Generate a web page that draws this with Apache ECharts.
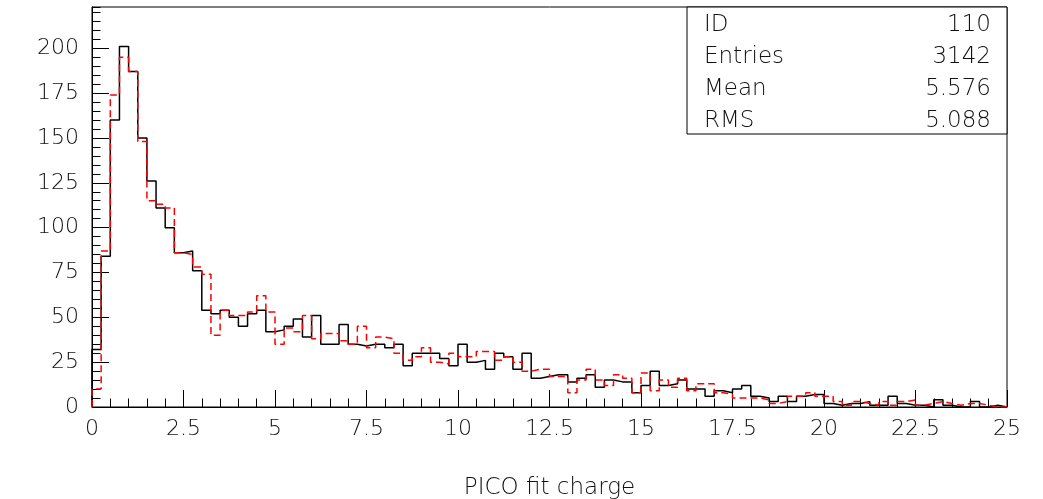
<!DOCTYPE html>
<html>
<head>
<meta charset="utf-8">
<script src="https://cdn.jsdelivr.net/npm/echarts@6/dist/echarts.min.js"></script>
<style>
html,body{margin:0;padding:0;background:#fff;}
#chart{width:1043px;height:499px;}
</style>
</head>
<body>
<div id="chart"></div>
<script>
// ---- data (histogram: 100 bins of width 0.25 from 0 to 25) ----
const binStart = 0;
const binWidth = 0.25;
const dataCounts = [
  32, 84, 160, 201, 187, 150, 126, 111, 100, 86,
  87, 76, 54, 52, 54, 50, 45, 52, 54, 42,
  43, 45, 49, 39, 51, 35, 35, 46, 35, 34,
  35, 35, 33, 35, 23, 30, 30, 30, 27, 23,
  35, 25, 26, 21, 30, 28, 21, 30, 16, 17,
  18, 18, 14, 16, 18, 11, 15, 14, 14, 8,
  12, 20, 12, 13, 15, 10, 10, 6, 9, 8,
  10, 12, 6, 5, 3, 6, 3, 6, 7, 7,
  2, 1, 2, 2, 3, 1, 1, 6, 2, 1,
  1, 0, 4, 1, 0, 0, 3, 0, 1, 0
];
const refCounts = [
  10, 87, 174, 195, 187, 148, 115, 113, 111, 86,
  85, 78, 74, 40, 54, 51, 51, 53, 62, 53,
  35, 44, 42, 51, 38, 41, 41, 37, 35, 45,
  33, 39, 38, 30, 26, 28, 33, 25, 24, 30,
  28, 28, 31, 31, 26, 28, 25, 20, 21, 21,
  17, 17, 8, 15, 21, 15, 12, 18, 16, 8,
  19, 9, 15, 11, 16, 9, 13, 13, 8, 7,
  5, 5, 5, 4, 2, 3, 6, 6, 8, 6,
  6, 3, 1, 3, 2, 1, 3, 1, 3, 4,
  1, 2, 3, 2, 1, 2, 2, 1, 0, 0
];
const xTickLabels = ['0','2.5','5','7.5','10','12.5','15','17.5','20','22.5','25'];
const yTickLabels = ['0','25','50','75','100','125','150','175','200'];
const statsLabels = ['ID', 'Entries', 'Mean', 'RMS'];
const statsValues = ['110', '3142', '5.576', '5.088'];
const xTitle = 'PICO fit charge';

// ---- build step outlines from the bins ----
function outline(counts) {
  const pts = [[binStart, 0]];
  counts.forEach((c, i) => pts.push([binStart + i * binWidth, c]));
  const xEnd = binStart + counts.length * binWidth;
  pts.push([xEnd, counts[counts.length - 1]]);
  pts.push([xEnd, 0]);
  return pts;
}

const FONT = 'DejaVu Sans';
const FW = 200;
const FS = 23;
const TFS = 22;
const TXT = '#111';
const G = {left: 92, right: 1007, top: 7, bottom: 407};

const statsGraphics = [{
  type: 'rect',
  shape: {x: 687, y: G.top, width: G.right - 687, height: 134 - G.top},
  style: {fill: '#fff', stroke: '#000', lineWidth: 1},
  z: 100
}];
const rowH = (134 - G.top) / statsLabels.length;
statsLabels.forEach((lab, i) => {
  const cy = G.top + rowH * (i + 0.5) + 2.5;
  statsGraphics.push({type: 'text', x: 704, y: cy, z: 101,
    style: {text: lab, font: FW + ' ' + FS + 'px "' + FONT + '"', fill: TXT, textVerticalAlign: 'middle', verticalAlign: 'middle'}});
  statsGraphics.push({type: 'text', x: 991, y: cy, z: 101,
    style: {text: statsValues[i], font: FW + ' ' + FS + 'px "' + FONT + '"', fill: TXT, textAlign: 'right', align: 'right', textVerticalAlign: 'middle', verticalAlign: 'middle'}});
});

const chart = echarts.init(document.getElementById('chart'), null, {renderer: 'canvas'});
const yMax = 223;
chart.setOption({
  animation: false,
  backgroundColor: '#fff',
  grid: {left: G.left, right: 1043 - G.right, top: G.top, bottom: 499 - G.bottom,
         show: true, borderColor: '#000', borderWidth: 1, backgroundColor: 'transparent',
         containLabel: false, outerBoundsMode: 'none'},
  xAxis: [{
    type: 'value', min: 0, max: 25, interval: 2.5, position: 'bottom',
    axisLine: {show: true, onZero: false, lineStyle: {color: '#000', width: 1}},
    axisTick: {show: true, inside: true, length: 17, lineStyle: {color: '#000', width: 1}},
    axisLabel: {show: true, color: TXT, fontFamily: FONT, fontWeight: FW, fontSize: TFS, margin: 11,
                formatter: (v) => { const i = Math.round(v / 2.5); return xTickLabels[i] !== undefined ? xTickLabels[i] : ''; }},
    splitLine: {show: false},
    name: xTitle, nameLocation: 'middle', nameGap: 70,
    nameTextStyle: {color: TXT, fontFamily: FONT, fontWeight: FW, fontSize: FS}
  }, {
    type: 'value', min: 0, max: 25, interval: 0.5, position: 'bottom',
    axisLine: {show: false},
    axisTick: {show: true, inside: true, length: 8.5, lineStyle: {color: '#000', width: 1}},
    axisLabel: {show: false}, splitLine: {show: false}
  }],
  yAxis: [{
    type: 'value', min: 0, max: yMax, interval: 25, position: 'left',
    axisLine: {show: true, onZero: false, lineStyle: {color: '#000', width: 1}},
    axisTick: {show: true, inside: true, length: 17, lineStyle: {color: '#000', width: 1}},
    axisLabel: {show: true, color: TXT, fontFamily: FONT, fontWeight: FW, fontSize: TFS, margin: 13, showMaxLabel: false,
                formatter: (v) => { const i = Math.round(v / 25); return (Math.abs(v - i * 25) < 1e-6 && yTickLabels[i] !== undefined) ? yTickLabels[i] : ''; }},
    splitLine: {show: false}
  }, {
    type: 'value', min: 0, max: yMax, interval: 5, position: 'left',
    axisLine: {show: false},
    axisTick: {show: true, inside: true, length: 8.5, lineStyle: {color: '#000', width: 1}},
    axisLabel: {show: false}, splitLine: {show: false}
  }],
  series: [{
    type: 'line', name: 'data', xAxisIndex: 0, yAxisIndex: 0,
    data: outline(dataCounts), step: 'end', showSymbol: false, symbol: 'none',
    lineStyle: {color: '#000', width: 1.5}, z: 3
  }, {
    type: 'line', name: 'reference', xAxisIndex: 0, yAxisIndex: 0,
    data: outline(refCounts), step: 'end', showSymbol: false, symbol: 'none',
    lineStyle: {color: '#ff0000', width: 1.5, type: [7, 4]}, z: 4
  }],
  graphic: statsGraphics
});
</script>
</body>
</html>
